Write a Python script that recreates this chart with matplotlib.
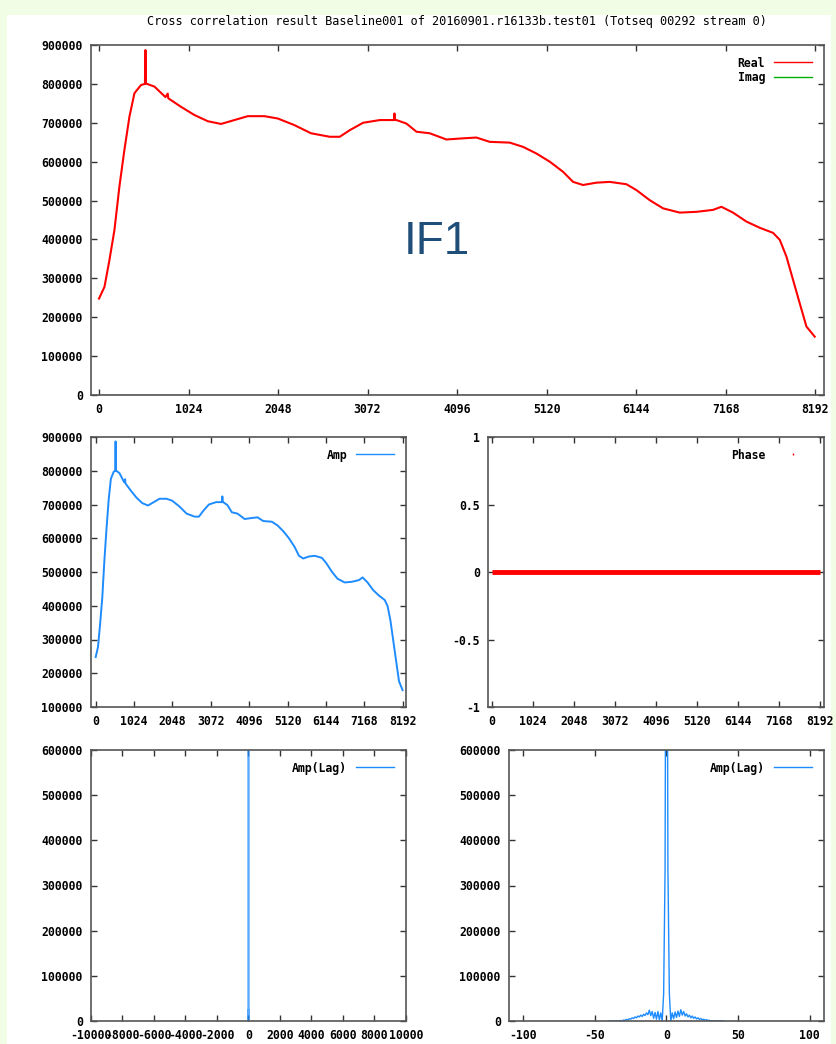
import matplotlib
matplotlib.use("Agg")

import matplotlib.pyplot as plt
import numpy as np
from matplotlib.lines import Line2D
from matplotlib.patches import Rectangle


TITLE = (
    "Cross correlation result Baseline001 of "
    "20160901.r16133b.test01 (Totseq 00292 stream 0)"
)

# channel / amplitude values
channels = [
    0, 62, 119, 176, 233, 290, 348, 405, 480, 525, 531, 537,
    634, 760, 786, 792, 938, 1091, 1244, 1396, 1549, 1702, 1892,
    2045, 2235, 2426, 2640, 2754, 2869, 3021, 3212, 3375, 3380,
    3385, 3403, 3517, 3632, 3784, 3975, 4165, 4318, 4470, 4699,
    4852, 5004, 5157, 5309, 5424, 5538, 5691, 5843, 6034, 6148,
    6301, 6453, 6644, 6835, 7025, 7121, 7254, 7407, 7560, 7712,
    7789, 7865, 7941, 8017, 8094, 8189,
]

real_vals = [
    248000, 278000, 347000, 424000, 536000, 630000, 716000, 776000,
    797000, 800000, 887000, 801000, 793000, 766000, 775000, 763000,
    741000, 720000, 704000, 697000, 707000, 717000, 717000, 711000,
    694000, 673000, 664000, 664000, 681000, 700000, 707000, 707000,
    724000, 707000, 707000, 698000, 677000, 673000, 657000, 660000,
    662000, 651000, 649000, 638000, 621000, 600000, 574000, 548000,
    540000, 546000, 548000, 542000, 527000, 501000, 480000, 469000,
    471000, 476000, 484000, 469000, 446000, 430000, 417000, 399000,
    356000, 296000, 236000, 176000, 150000,
]

imag_vals = [0] * len(channels)

phase_vals = [0] * len(channels)

# lag spectrum, lags -40 .. 40
lags = list(range(-40, 41))

lag_amp = [
    0, 0, 0, 0, 0, 0, 0, 0,
    1000, 500, 2000, 1500, 3500, 2500, 5000, 4000,
    7000, 5500, 9000, 7000, 11000, 9000, 13000, 10000,
    15000, 12000, 18000, 14000, 24000, 12000, 21000, 6000,
    19000, 4000, 21000, 3000, 18000, 0, 60000, 335000,
    1500000,
    335000, 60000, 0, 18000, 5000, 20000, 8000, 22000,
    10000, 25000, 13000, 21000, 11000, 16000, 9000, 13000,
    7000, 11000, 6000, 9000, 4500, 7000, 3500, 5500,
    2500, 4000, 1500, 3000, 1000, 1500, 0, 500,
    0, 0, 0, 0, 0, 0, 0, 0,
]

W, H = 837, 1044

RED = "#ff0000"
GREEN = "#00b000"
BLUE = "#1e8cff"
BORDER = "#555555"
MONO = "DejaVu Sans Mono"
FS = 8.3


def box(left, top, right, bottom):
    return [
        left / W,
        1 - bottom / H,
        (right - left) / W,
        (bottom - top) / H,
    ]


def style_axes(ax, xlim, xticks, ylim, yticks,
               xlabels=None, ylabels=None):

    ax.set_xlim(*xlim)
    ax.set_ylim(*ylim)

    ax.set_xticks(xticks)
    ax.set_yticks(yticks)

    if xlabels is None:
        xlabels = [f"{t:g}" for t in xticks]
    if ylabels is None:
        ylabels = [f"{t:g}" for t in yticks]

    ax.set_xticklabels(xlabels)
    ax.set_yticklabels(ylabels)

    ax.tick_params(
        direction="in",
        length=4.5,
        width=1.0,
        color="#333333",
        top=True,
        right=True,
        pad=6,
        labelsize=FS,
    )

    for lab in ax.get_xticklabels() + ax.get_yticklabels():
        lab.set_fontfamily(MONO)
        lab.set_fontweight("bold")

    for sp in ax.spines.values():
        sp.set_color(BORDER)
        sp.set_linewidth(1.2)
        sp.set_zorder(5)


def add_legend(ax, handles, labels):

    ax.legend(
        handles,
        labels,
        loc="upper right",
        frameon=False,
        markerfirst=False,
        handlelength=3.3,
        handletextpad=0.8,
        labelspacing=0.15,
        borderaxespad=0.6,
        prop={"family": MONO, "weight": "bold", "size": FS},
    )


fig = plt.figure(figsize=(W / 100, H / 100), dpi=100)
fig.patch.set_facecolor("#f2fde6")

fig.patches.append(
    Rectangle(
        (7 / W, 0),
        (831 - 7) / W,
        1 - 15 / H,
        transform=fig.transFigure,
        facecolor="white",
        edgecolor="none",
        zorder=-10,
    )
)

fig.text(
    457 / W,
    1 - 22 / H,
    TITLE,
    ha="center",
    va="center",
    fontsize=8.6,
    family=MONO,
)

# top: real / imag
ax = fig.add_axes(box(91, 45, 824, 395))
ax.plot(channels, imag_vals, color=GREEN, lw=1.0, zorder=1)
ax.plot(channels, real_vals, color=RED, lw=1.5, zorder=2)
style_axes(
    ax,
    (-92, 8295),
    range(0, 8193, 1024),
    (0, 900000),
    range(0, 900001, 100000),
)
add_legend(
    ax,
    [Line2D([], [], color=RED, lw=1), Line2D([], [], color=GREEN, lw=1)],
    ["Real", "Imag"],
)
ax.text(
    0.472, 0.437, "IF1",
    transform=ax.transAxes,
    ha="center", va="center",
    fontsize=33,
    family="Liberation Sans",
    color="#1f4e79",
)

# middle left: amplitude
ax = fig.add_axes(box(91, 437, 406, 707))
ax.plot(channels, real_vals, color=BLUE, lw=1.4)
style_axes(
    ax,
    (-125, 8280),
    range(0, 8193, 1024),
    (100000, 900000),
    range(100000, 900001, 100000),
)
add_legend(ax, [Line2D([], [], color=BLUE, lw=1)], ["Amp"])

# middle right: phase
ax = fig.add_axes(box(488, 437, 824, 707))
ax.plot(channels, phase_vals, color=RED, lw=3.5, solid_capstyle="butt")
style_axes(
    ax,
    (-100, 8292),
    range(0, 8193, 1024),
    (-1, 1),
    [-1, -0.5, 0, 0.5, 1],
)
add_legend(
    ax,
    [Line2D([], [], color=RED, lw=0, marker="|", markersize=2)],
    ["Phase"],
)

# bottom left: lag spectrum, full range
ax = fig.add_axes(box(91, 750, 406, 1021))
ax.plot(lags, lag_amp, color=BLUE, lw=1.2, alpha=0.75)
style_axes(
    ax,
    (-10000, 10000),
    range(-10000, 10001, 2000),
    (0, 600000),
    range(0, 600001, 100000),
)
add_legend(ax, [Line2D([], [], color=BLUE, lw=1)], ["Amp(Lag)"])

# bottom right: lag spectrum, zoomed
ax = fig.add_axes(box(509, 750, 824, 1021))
ax.plot(lags, lag_amp, color=BLUE, lw=1.0)
style_axes(
    ax,
    (-110, 110),
    [-100, -50, 0, 50, 100],
    (0, 600000),
    range(0, 600001, 100000),
)
add_legend(ax, [Line2D([], [], color=BLUE, lw=1)], ["Amp(Lag)"])

plt.savefig("out.png", dpi=100, facecolor=fig.get_facecolor())
plt.close()
